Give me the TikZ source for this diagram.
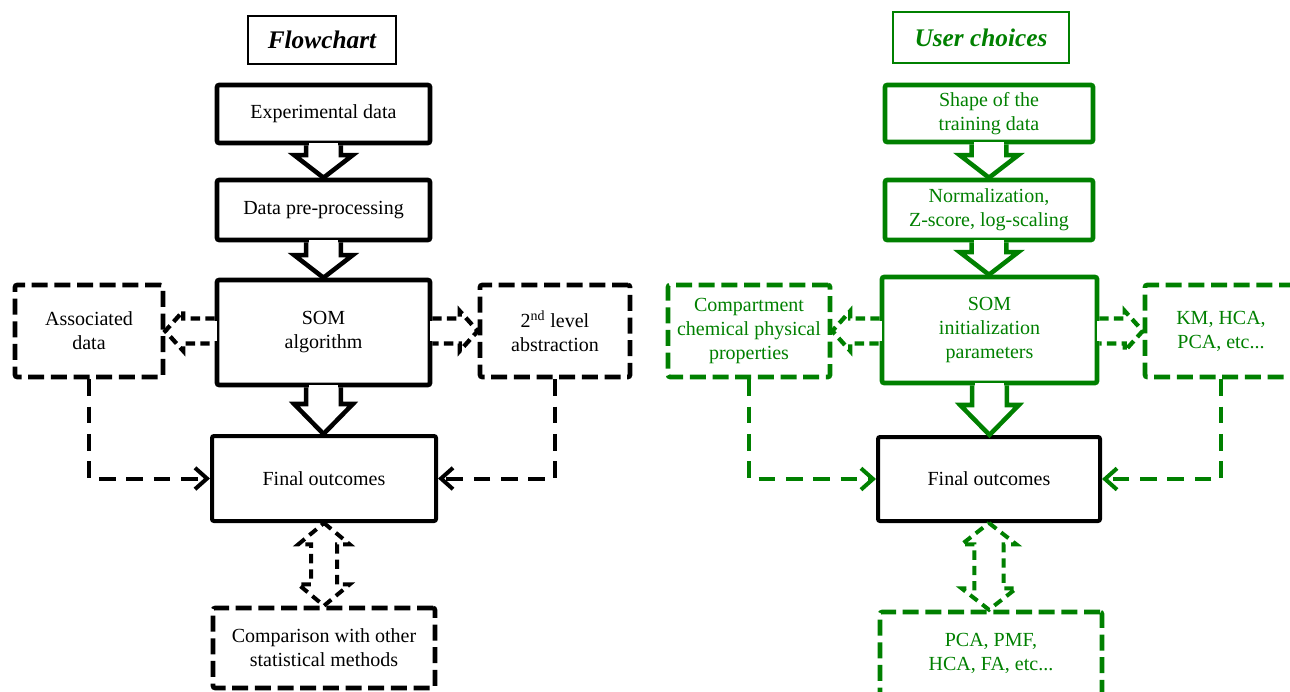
\documentclass[tikz,border=0pt]{standalone}
\usepackage{fontspec}
\setmainfont{Liberation Serif}
\usetikzlibrary{calc,arrows.meta}
\definecolor{dgreen}{RGB}{0,128,0}
\newcommand\blockdown[4]{%
 \fill[white] let \p1=(#1.south) in (\x1-11.2pt,\y1-2.2pt) rectangle (\x1+11.2pt,\y1+2pt);
 \draw[#3] let \p1=(#1.south), \p2=(#2.north) in (\x1-13pt,\y1) -- (\x1-13pt,\y2+#4) -- (\x1-22pt,\y2+#4) -- (\x1,\y2) -- (\x1+22pt,\y2+#4) -- (\x1+13pt,\y2+#4) -- (\x1+13pt,\y1);
}
\newcommand\sidearrowL[3]{%
 \fill[white] let \p1=(#1.west |- #2.east) in (\x1-2.2pt,\y1-7.6pt) rectangle (\x1+2pt,\y1+7.6pt);
 \draw[#3] let \p1=(#1.west |- #2.east), \p2=(#2.east) in (\x1,\y1+9.4pt) -- (\x2+13.5pt,\y1+9.4pt) -- (\x2+13.5pt,\y1+15pt) -- (\x2,\y2) -- (\x2+13.5pt,\y1-15pt) -- (\x2+13.5pt,\y1-9.4pt) -- (\x1,\y1-9.4pt);
}
\newcommand\sidearrowR[3]{%
 \fill[white] let \p1=(#1.east |- #2.west) in (\x1-2pt,\y1-7.6pt) rectangle (\x1+2.2pt,\y1+7.6pt);
 \draw[#3] let \p1=(#1.east |- #2.west), \p2=(#2.west) in (\x1,\y1+9.4pt) -- (\x2-13.5pt,\y1+9.4pt) -- (\x2-13.5pt,\y1+15pt) -- (\x2,\y2) -- (\x2-13.5pt,\y1-15pt) -- (\x2-13.5pt,\y1-9.4pt) -- (\x1,\y1-9.4pt);
}
\newcommand\dblarrow[4]{%
 \draw[#3] let \p1=(#1.south), \p2=(#2.north) in (\x1,\y1) -- (\x1+#4+9.5pt,\y1-16pt) -- (\x1+#4,\y1-16pt) -- (\x1+#4,\y2+16pt) -- (\x1+#4+9.5pt,\y2+16pt) -- (\x1,\y2) -- (\x1-#4-9.5pt,\y2+16pt) -- (\x1-#4,\y2+16pt) -- (\x1-#4,\y1-16pt) -- (\x1-#4-9.5pt,\y1-16pt) -- cycle;
}
\begin{document}
\begin{tikzpicture}[x=0.75pt,y=-0.75pt,
  txt/.style={font=\fontsize{15}{18}\selectfont, align=center, inner sep=0pt},
  titlebox/.style={draw, line width=1.1pt, inner sep=0pt, font=\fontsize{19}{22}\selectfont\bfseries\itshape},
  solidbox/.style={txt, draw, line width=3.4pt, rounded corners=1.5pt, line join=miter},
  dashbox/.style={txt, draw, line width=3.4pt, rounded corners=1.5pt, dash pattern=on 12pt off 5pt},
  blk/.style={line width=3.4pt, line join=miter},
  sidearr/.style={line width=3.2pt, dash pattern=on 7pt off 4pt, line join=miter},
  dblarr/.style={line width=3pt, dash pattern=on 7pt off 4.5pt, line join=miter},
  conn/.style={line width=3pt, dash pattern=on 12.5pt off 8pt, -{Straight Barb[length=9pt,width=16pt]}}
]
\useasboundingbox (0,0) rectangle (1290,692);

% ---------- left: Flowchart ----------
\node[titlebox, minimum width=111pt, minimum height=36pt] (flowT) at (322,40) {Flowchart};
\node[solidbox, minimum width=159.75pt, minimum height=43.5pt] (exp) at (323.5,114) {Experimental data};
\node[solidbox, minimum width=159.75pt, minimum height=45pt] (pre) at (323.5,210) {Data pre-processing};
\node[solidbox, minimum width=159.75pt, minimum height=78.75pt] (som) at (323.5,332.5) {SOM\\algorithm};
\node[solidbox, line width=3pt, minimum width=168pt, minimum height=63.75pt] (final) at (324,478.5) {Final outcomes};
\node[dashbox, minimum width=111pt, minimum height=69pt] (assoc) at (89,331) {Associated\\data};
\node[dashbox, minimum width=112.5pt, minimum height=69pt] (second) at (555,331) {2\textsuperscript{nd} level\\abstraction};
\node[dashbox, minimum width=166.5pt, minimum height=60pt] (comp) at (324,648) {Comparison with other\\statistical methods};

\blockdown{exp}{pre}{blk}{17pt}
\blockdown{pre}{som}{blk}{17pt}
\blockdown{som}{final}{blk}{22.5pt}
\sidearrowL{som}{assoc}{sidearr}
\sidearrowR{som}{second}{sidearr}
\dblarrow{final}{comp}{dblarr}{9.75pt}
\draw[conn] (assoc.south) |- (final.west);
\draw[conn] (second.south) |- (final.east);

% ---------- right: User choices ----------
\begin{scope}[dgreen]
\node[titlebox, line width=1.5pt, text=dgreen, minimum width=132pt, minimum height=38.25pt] (userT) at (981,37.5) {User choices};
\node[solidbox, text=dgreen, minimum width=156pt, minimum height=42.75pt] (shape) at (989,113.5) {Shape of the\\training data};
\node[solidbox, text=dgreen, minimum width=156pt, minimum height=45pt] (norm) at (989,210) {Normalization,\\Z-score, log-scaling};
\node[solidbox, text=dgreen, minimum width=161.25pt, minimum height=79.5pt] (somR) at (989.5,330) {SOM\\initialization\\parameters};
\node[solidbox, draw=black, text=black, line width=3pt, minimum width=166.5pt, minimum height=63pt] (finalR) at (989,479) {Final outcomes};
\node[dashbox, text=dgreen, minimum width=121.5pt, minimum height=69pt] (compart) at (749,331) {Compartment\\chemical physical\\properties};
\node[dashbox, text=dgreen, minimum width=114pt, minimum height=69pt] (km) at (1221,331) {KM, HCA,\\PCA, etc...};
\node[dashbox, text=dgreen, minimum width=166.5pt, minimum height=62.25pt] (pcaR) at (991,653.5) {PCA, PMF,\\HCA, FA, etc...};

\blockdown{shape}{norm}{blk}{17pt}
\blockdown{norm}{somR}{blk}{17pt}
\blockdown{somR}{finalR}{blk}{22.5pt}
\sidearrowL{somR}{compart}{sidearr}
\sidearrowR{somR}{km}{sidearr}
\dblarrow{finalR}{pcaR}{dblarr}{11pt}
\draw[conn] (compart.south) |- (finalR.west);
\draw[conn] (km.south) |- (finalR.east);
\end{scope}
\end{tikzpicture}
\end{document}
